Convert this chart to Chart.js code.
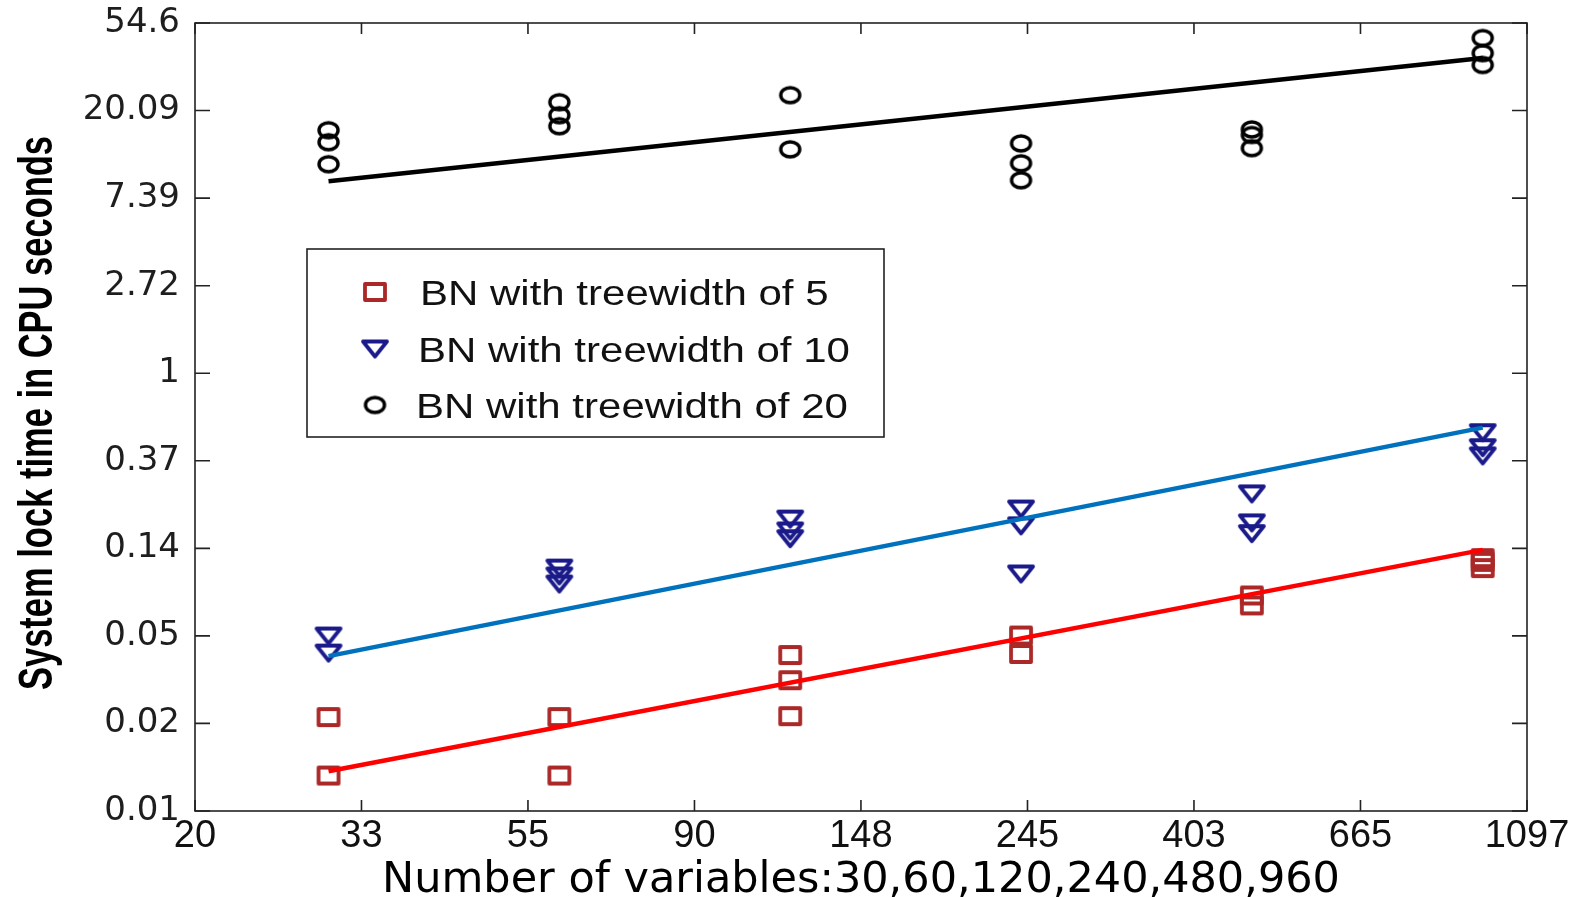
<!DOCTYPE html>
<html><head><meta charset="utf-8">
<script src="https://cdn.jsdelivr.net/npm/chart.js@4.4.1/dist/chart.umd.min.js"></script>
<style>html,body{margin:0;padding:0;background:#fff;} canvas{display:block;}</style>
</head><body>
<canvas id="c" width="1574" height="897"></canvas>
<script>
// ---- data ----
const xValues = [30, 60, 120, 240, 480, 960];
const tw5Times  = [[0.0197, 0.0101], [0.0197, 0.0101], [0.0400, 0.0300, 0.0199], [0.0500, 0.0405], [0.0790, 0.0705], [0.121, 0.116, 0.108]];
const tw10Times = [[0.0497, 0.0409], [0.108, 0.0987, 0.090], [0.189, 0.165, 0.151], [0.212, 0.175, 0.101], [0.252, 0.181, 0.160], [0.507, 0.427, 0.389]];
const tw20Times = [[16.05, 13.99, 10.88], [22.1, 19.05, 16.8], [23.95, 12.9], [13.8, 11.0, 9.06], [16.2, 15.2, 13.07], [45.98, 38.7, 33.8]];
const fitX  = [30, 960];
const fit5  = [0.0106, 0.133];
const fit10 = [0.0395, 0.537];
const fit20 = [8.95, 36.6];
const seriesLabels = ['BN with treewidth of 5', 'BN with treewidth of 10', 'BN with treewidth of 20'];
const xTickValues = [20.09, 33.12, 54.60, 90.02, 148.4, 244.7, 403.4, 665.1, 1096.6];
const xTickLabels = ['20', '33', '55', '90', '148', '245', '403', '665', '1097'];
const yTickValues = [0.006738, 0.01832, 0.04979, 0.1353, 0.3679, 1, 2.718, 7.389, 20.09, 54.60];
const yTickLabels = ['0.01', '0.02', '0.05', '0.14', '0.37', '1', '2.72', '7.39', '20.09', '54.6'];
const xTitle = 'Number of variables:30,60,120,240,480,960';
const yTitle = 'System lock time in CPU seconds';

// ---- helpers ----
function toPoints(groups) {
  const out = [];
  groups.forEach((ys, i) => ys.forEach(y => out.push({x: xValues[i], y: y})));
  return out;
}
function fitPoints(ys) { return fitX.map((x, i) => ({x: x, y: ys[i]})); }
function marker(kind, w, h, lw, color) {
  const pad = Math.ceil(lw / 2) + 1;
  const c = document.createElement('canvas');
  c.width = w + 2 * pad; c.height = h + 2 * pad;
  const g = c.getContext('2d');
  g.strokeStyle = color; g.lineWidth = lw; g.lineJoin = 'round';
  g.beginPath();
  if (kind === 'square') g.rect(pad, pad, w, h);
  else if (kind === 'tri') { g.moveTo(pad, pad); g.lineTo(pad + w, pad); g.lineTo(pad + w / 2, pad + h); g.closePath(); }
  else g.ellipse(pad + w / 2, pad + h / 2, w / 2, h / 2, 0, 0, Math.PI * 2);
  g.stroke();
  return c;
}
const sqMarker  = marker('square', 20, 16, 3.8, '#ab2828');
const triMarker = marker('tri', 24, 15, 3.8, '#1a1a8a');
const cirMarker = marker('circle', 19, 15, 3.4, '#000000');
const markers = [sqMarker, triMarker, cirMarker];

const framePlugin = {
  id: 'frame',
  beforeDraw(chart) {
    const ctx = chart.ctx;
    ctx.save(); ctx.fillStyle = '#fff'; ctx.fillRect(0, 0, chart.width, chart.height); ctx.restore();
  },
  beforeDatasetsDraw(chart) {
    const {ctx, chartArea: a, scales: {x, y}} = chart;
    ctx.save();
    ctx.strokeStyle = '#222'; ctx.lineWidth = 1.6;
    ctx.strokeRect(a.left, a.top, a.right - a.left, a.bottom - a.top);
    ctx.beginPath();
    xTickValues.forEach(v => {
      const px = x.getPixelForValue(v);
      ctx.moveTo(px, a.bottom); ctx.lineTo(px, a.bottom - 11);
      ctx.moveTo(px, a.top); ctx.lineTo(px, a.top + 11);
    });
    yTickValues.forEach(v => {
      const py = y.getPixelForValue(v);
      ctx.moveTo(a.left, py); ctx.lineTo(a.left + 15, py);
      ctx.moveTo(a.right, py); ctx.lineTo(a.right - 15, py);
    });
    ctx.stroke();
    // y-axis title
    ctx.fillStyle = '#000';
    ctx.font = 'bold 34.5px "Liberation Sans", Arial, sans-serif';
    ctx.textAlign = 'center'; ctx.textBaseline = 'alphabetic';
    ctx.translate(52, 413);
    ctx.rotate(-Math.PI / 2);
    ctx.scale(1, 1.4);
    ctx.fillText(yTitle, 0, 0);
    ctx.restore();
  },
  afterDatasetsDraw(chart) {
    const ctx = chart.ctx;
    ctx.save();
    ctx.fillStyle = '#fff';
    ctx.fillRect(307, 249, 577, 188);
    ctx.strokeStyle = '#222'; ctx.lineWidth = 1.6;
    ctx.strokeRect(307, 249, 577, 188);
    const rows = [292, 349, 405];
    const textX = [420, 418, 416];
    ctx.font = '35px "Liberation Sans", Arial, sans-serif';
    ctx.fillStyle = '#111'; ctx.textAlign = 'left'; ctx.textBaseline = 'alphabetic';
    rows.forEach((ry, i) => {
      const m = markers[i];
      ctx.drawImage(m, 375 - m.width / 2, ry - m.height / 2);
      ctx.save();
      ctx.translate(textX[i], ry + 12.5);
      ctx.scale(1.2, 1);
      ctx.fillText(chart.data.datasets[i].label, 0, 0);
      ctx.restore();
    });
    ctx.restore();
  }
};

new Chart(document.getElementById('c'), {
  type: 'scatter',
  data: {
    datasets: [
      {label: seriesLabels[0], data: toPoints(tw5Times),  pointStyle: sqMarker,  pointRadius: 6, showLine: false, order: 2},
      {label: seriesLabels[1], data: toPoints(tw10Times), pointStyle: triMarker, pointRadius: 6, showLine: false, order: 2},
      {label: seriesLabels[2], data: toPoints(tw20Times), pointStyle: cirMarker, pointRadius: 6, showLine: false, order: 2},
      {label: 'fit 5',  data: fitPoints(fit5),  showLine: true, borderColor: '#ff0000', borderWidth: 4.5, pointRadius: 0, order: 0},
      {label: 'fit 10', data: fitPoints(fit10), showLine: true, borderColor: '#0072bd', borderWidth: 4.5, pointRadius: 0, order: 0},
      {label: 'fit 20', data: fitPoints(fit20), showLine: true, borderColor: '#000000', borderWidth: 4.5, pointRadius: 0, order: 0}
    ]
  },
  options: {
    responsive: false,
    animation: false,
    devicePixelRatio: 1,
    layout: {padding: {top: 23, right: 47, left: 0, bottom: 0}},
    plugins: {legend: {display: false}, tooltip: {enabled: false}},
    scales: {
      x: {
        type: 'logarithmic', position: 'bottom',
        min: xTickValues[0], max: xTickValues[xTickValues.length - 1],
        afterBuildTicks: s => { s.ticks = xTickValues.map(v => ({value: v})); },
        afterFit: s => { s.height = 86; s.paddingLeft = 0; s.paddingRight = 0; },
        grid: {display: false, drawTicks: false},
        border: {display: false},
        ticks: {autoSkip: false, maxRotation: 0, minRotation: 0, padding: 3, color: '#111',
                font: {family: '"Liberation Sans", Arial, sans-serif', size: 38, lineHeight: 1.2},
                callback: (v, i) => xTickLabels[i]},
        title: {display: true, text: xTitle, color: '#000',
                font: {family: '"DejaVu Sans", sans-serif', size: 43, lineHeight: 0.75}, padding: 0}
      },
      y: {
        type: 'logarithmic', position: 'left',
        min: yTickValues[0], max: yTickValues[yTickValues.length - 1],
        afterBuildTicks: s => { s.ticks = yTickValues.map(v => ({value: v})); },
        afterFit: s => { s.width = 195; s.paddingTop = 0; s.paddingBottom = 0; },
        grid: {display: false, drawTicks: false},
        border: {display: false},
        ticks: {autoSkip: false, padding: 15, color: '#1e1e1e',
                font: {family: '"DejaVu Sans", sans-serif', size: 34},
                callback: (v, i) => yTickLabels[i]}
      }
    }
  },
  plugins: [framePlugin]
});
</script>
</body></html>
